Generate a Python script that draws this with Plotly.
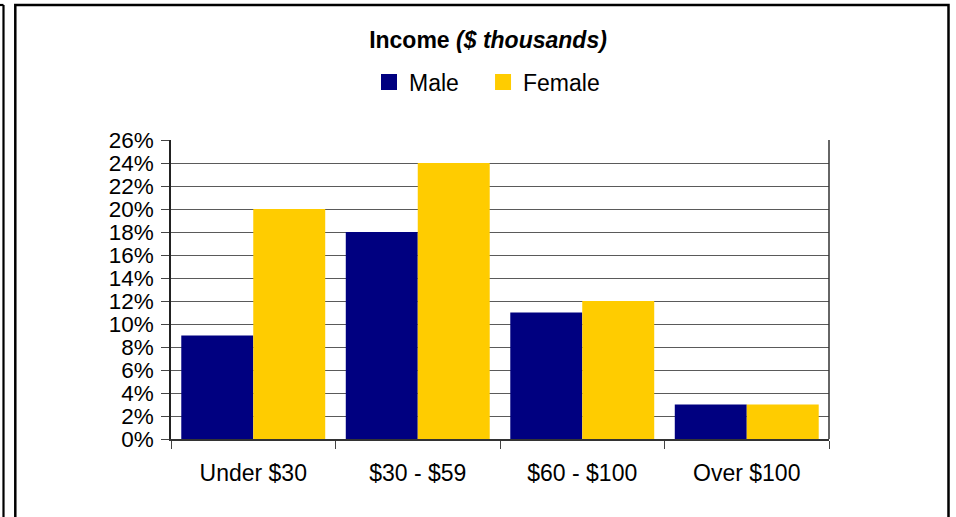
import plotly.graph_objects as go

categories = ["Under $30", "$30 - $59", "$60 - $100", "Over $100"]
male = [9, 18, 11, 3]
female = [20, 24, 12, 3]
series_names = ["Male", "Female"]
series_colors = ["#000080", "#FFCC00"]
y_ticks = list(range(0, 27, 2))

W, H = 956, 517
L, R, T, B = 171, 829, 140, 439
pw, ph = R - L, B - T

def px(x):
    return (x - L) / pw

def py(y):
    return (B - y) / ph

fig = go.Figure()
for name, vals, col in zip(series_names, [male, female], series_colors):
    fig.add_bar(x=categories, y=vals, name=name, showlegend=False,
                marker=dict(color=col, line=dict(width=0)))
pad_names = [series_names[0] + "\u00a0\u00a0\u00a0", series_names[1]]
for name, col in zip(pad_names, series_colors):
    fig.add_scatter(x=[None], y=[None], name=name, mode="markers",
                    marker=dict(symbol="square", size=16, color=col), hoverinfo="skip")

font = "Liberation Sans, Arial, sans-serif"
FS = 23
fig.update_layout(
    width=W, height=H,
    margin=dict(l=L, r=W - R, t=T, b=H - B, pad=0),
    paper_bgcolor="white", plot_bgcolor="white",
    barmode="group", bargap=0.125, bargroupgap=0,
    font=dict(family=font, size=FS, color="black"),
    title=dict(text="<b>Income <i>($ thousands)</i></b>", x=px(488), xref="paper", xanchor="center",
               y=1 - 40 / H, yref="container", yanchor="middle", font=dict(size=FS)),
    legend=dict(orientation="h", x=px(369), xanchor="left", y=py(82), yanchor="middle",
                font=dict(size=FS), traceorder="normal", itemwidth=30),
    showlegend=True,
)
fig.update_yaxes(range=[0, 26], tickvals=y_ticks, ticktext=[f"{v}%" for v in y_ticks],
                 tickfont=dict(size=22.5), ticklabelstandoff=3,
                 showgrid=True, gridcolor="#5a5a5a", gridwidth=1,
                 ticks="outside", ticklen=8, tickcolor="#444444",
                 showline=True, linecolor="#222222", linewidth=1.5, zeroline=False)
fig.update_xaxes(tickson="boundaries", ticks="outside", ticklen=8, tickcolor="#444444",
                 showline=True, linecolor="#333333", linewidth=2, ticklabelstandoff=12,
                 mirror=False)

shapes = [
    dict(type="rect", xref="paper", yref="paper", x0=px(15.3), x1=px(948.5), y0=py(540), y1=py(5),
         line=dict(color="black", width=2.5)),
    dict(type="line", xref="paper", yref="paper", x0=px(3.5), x1=px(3.5), y0=py(540), y1=py(5),
         line=dict(color="black", width=2.2)),
    dict(type="line", xref="paper", yref="paper", x0=px(-2), x1=px(3.5), y0=py(5), y1=py(5),
         line=dict(color="black", width=2.2)),
    dict(type="line", xref="paper", yref="paper", x0=1, x1=1, y0=0, y1=1,
         line=dict(color="#333333", width=1.5)),
]
fig.update_layout(shapes=shapes)

fig.write_html("out.html", config={"displayModeBar": False},
               post_script="document.body.style.margin='0';document.body.style.overflow='hidden';")
